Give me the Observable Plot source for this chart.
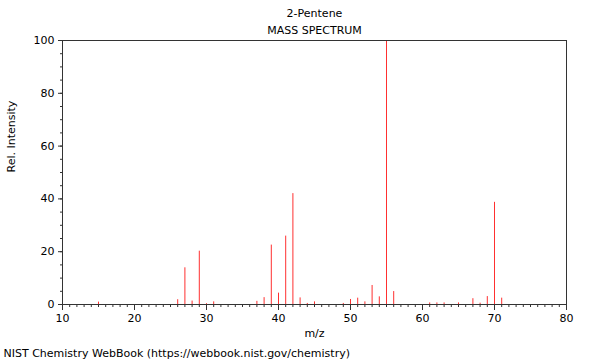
<!DOCTYPE html>
<html>
<head>
<meta charset="utf-8">
<script src="https://cdn.jsdelivr.net/npm/d3@7"></script>
<script src="https://cdn.jsdelivr.net/npm/@observablehq/plot@0.6"></script>
<style>
  html, body { margin: 0; padding: 0; background: #fff; }
  svg { display: block; }
</style>
</head>
<body>
<div id="chart"></div>
<script>
const title = "2-Pentene";
const subtitle = "MASS SPECTRUM";
const caption = "NIST Chemistry WebBook (https://webbook.nist.gov/chemistry)";
const xLabel = "m/z";
const yLabel = "Rel. Intensity";

const mz =        [15, 26, 27,   28,  29,   30,  31,  37,  38,  39,   40,  41,   42,   43,  44,  45,  49,  50,  51,  52,  53,  54,  55,  56,  61,  62,  63,  65,  67,  68,  69,  70,   71];
const intensity = [0.9,1.8,13.9, 1.3, 20.2, 0.3, 1.0, 1.2, 2.6, 22.5, 4.3, 25.9, 42.0, 2.5, 0.4, 1.0, 0.4, 1.9, 2.4, 1.0, 7.2, 2.9, 100, 4.9, 0.6, 0.6, 0.6, 0.6, 2.2, 0.5, 3.0, 38.7, 2.4];

const xMajorTicks = [10, 20, 30, 40, 50, 60, 70, 80];
const xMinorTicks = d3.range(10, 81, 1);
const yMajorTicks = [0, 20, 40, 60, 80, 100];
const yMinorTicks = d3.range(0, 101, 5);

const data = mz.map((m, i) => ({mz: m, intensity: intensity[i]}));

const chart = Plot.plot({
  width: 600,
  height: 360,
  marginLeft: 62,
  marginRight: 34,
  marginTop: 40,
  marginBottom: 56,
  style: {fontFamily: "DejaVu Sans, sans-serif", fontSize: "11px", background: "#fff", color: "#000"},
  x: {domain: [10, 80], label: null},
  y: {domain: [0, 100], label: null},
  marks: [
    Plot.axisX({ticks: xMinorTicks, tickSize: 3, tickFormat: () => "", stroke: "#333"}),
    Plot.axisX({ticks: xMajorTicks, tickSize: 6, tickPadding: 4, stroke: "#333", fontSize: 11}),
    Plot.axisY({ticks: yMinorTicks, tickSize: 2, tickFormat: () => "", stroke: "#333"}),
    Plot.axisY({ticks: yMajorTicks, tickSize: 4, tickPadding: 4, stroke: "#333", fontSize: 11}),
    Plot.ruleX(data, {x: "mz", y1: 0, y2: "intensity", stroke: "#ff3030", strokeWidth: 1}),
    Plot.frame({stroke: "#333"}),
    Plot.text([title], {frameAnchor: "top", lineAnchor: "middle", dy: -27, fontSize: 11}),
    Plot.text([subtitle], {frameAnchor: "top", lineAnchor: "middle", dy: -10, fontSize: 11}),
    Plot.text([xLabel], {frameAnchor: "bottom", lineAnchor: "middle", dy: 29, fontSize: 11}),
    Plot.text([yLabel], {frameAnchor: "left", lineAnchor: "middle", rotate: -90, dx: -51, fontSize: 11}),
    Plot.text([caption], {frameAnchor: "bottom-left", textAnchor: "start", lineAnchor: "middle", dx: -59, dy: 49, fontSize: 11})
  ]
});
document.getElementById("chart").appendChild(chart);
</script>
</body>
</html>
